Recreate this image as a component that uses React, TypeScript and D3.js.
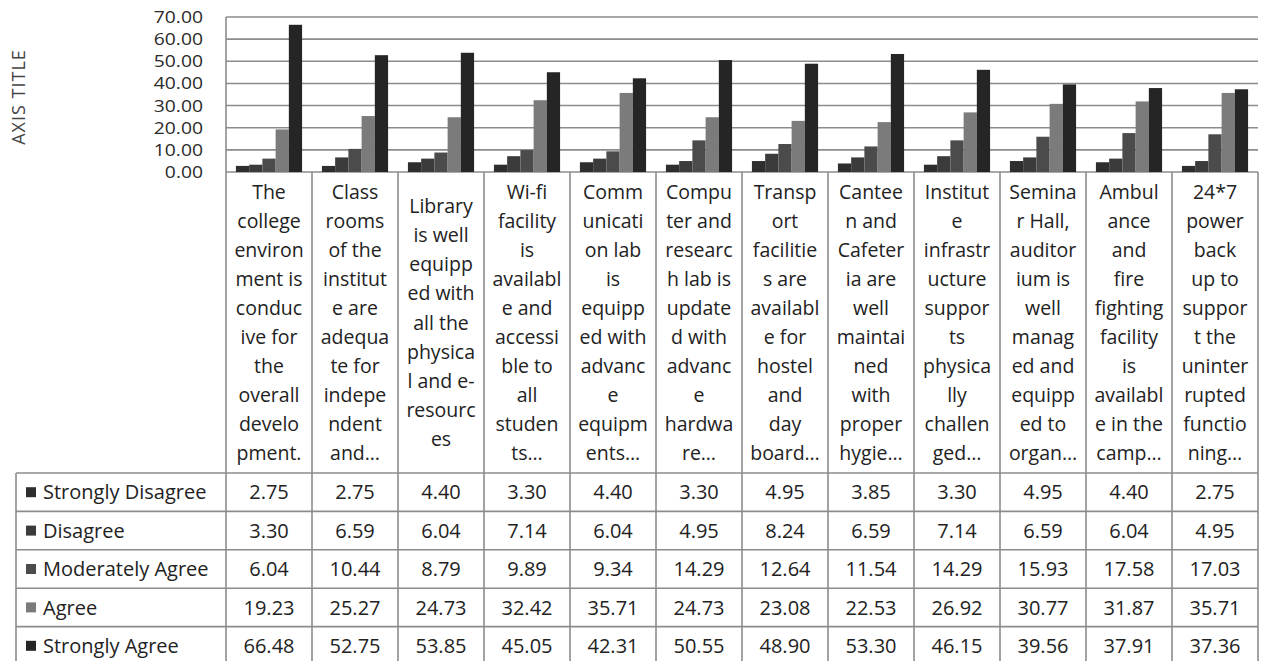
import React from 'react';
import * as d3 from 'd3';

const seriesNames = ['Strongly Disagree', 'Disagree', 'Moderately Agree', 'Agree', 'Strongly Agree'];
const seriesColors = ['#2e2e2e', '#3b3b3b', '#4b4b4b', '#7b7b7b', '#252525'];

// category labels, wrapped the way the data table wraps them
const categoryLines = [
  ['The', 'college', 'environ', 'ment is', 'conduc', 'ive for', 'the', 'overall', 'develo', 'pment.'],
  ['Class', 'rooms', 'of the', 'institut', 'e are', 'adequa', 'te for', 'indepe', 'ndent', 'and…'],
  ['Library', 'is well', 'equipp', 'ed with', 'all the', 'physica', 'l and e-', 'resourc', 'es'],
  ['Wi-fi', 'facility', 'is', 'availabl', 'e and', 'accessi', 'ble to', 'all', 'studen', 'ts…'],
  ['Comm', 'unicati', 'on lab', 'is', 'equipp', 'ed with', 'advanc', 'e', 'equipm', 'ents…'],
  ['Compu', 'ter and', 'researc', 'h lab is', 'update', 'd with', 'advanc', 'e', 'hardwa', 're…'],
  ['Transp', 'ort', 'facilitie', 's are', 'availabl', 'e for', 'hostel', 'and', 'day', 'board…'],
  ['Cantee', 'n and', 'Cafeter', 'ia are', 'well', 'maintai', 'ned', 'with', 'proper', 'hygie…'],
  ['Institut', 'e', 'infrastr', 'ucture', 'suppor', 'ts', 'physica', 'lly', 'challen', 'ged…'],
  ['Semina', 'r Hall,', 'auditor', 'ium is', 'well', 'manag', 'ed and', 'equipp', 'ed to', 'organ…'],
  ['Ambul', 'ance', 'and', 'fire', 'fighting', 'facility', 'is', 'availabl', 'e in the', 'camp…'],
  ['24*7', 'power', 'back', 'up to', 'suppor', 't the', 'uninter', 'rupted', 'functio', 'ning…'],
];

const stronglyDisagree = [2.75, 2.75, 4.40, 3.30, 4.40, 3.30, 4.95, 3.85, 3.30, 4.95, 4.40, 2.75];
const disagree = [3.30, 6.59, 6.04, 7.14, 6.04, 4.95, 8.24, 6.59, 7.14, 6.59, 6.04, 4.95];
const moderatelyAgree = [6.04, 10.44, 8.79, 9.89, 9.34, 14.29, 12.64, 11.54, 14.29, 15.93, 17.58, 17.03];
const agree = [19.23, 25.27, 24.73, 32.42, 35.71, 24.73, 23.08, 22.53, 26.92, 30.77, 31.87, 35.71];
const stronglyAgree = [66.48, 52.75, 53.85, 45.05, 42.31, 50.55, 48.90, 53.30, 46.15, 39.56, 37.91, 37.36];

const yTicks = [0, 10, 20, 30, 40, 50, 60, 70];

const seriesValues = [stronglyDisagree, disagree, moderatelyAgree, agree, stronglyAgree];

const W = 1269;
const H = 661;
const plotLeft = 226;
const plotRight = 1258;
const plotTop = 17;
const plotBottom = 172;
const tableTop = 473;
const rowH = 38.4;
const legendLeft = 16;
const font = '"Open Sans", "Noto Sans", sans-serif';
const gridColor = '#8c8c8c';

export default function App() {
  const x = d3.scaleBand<number>()
    .domain(categoryLines.map((_, i) => i))
    .range([plotLeft, plotRight])
    .padding(0);
  const bw = x.bandwidth();
  const barW = bw / 6.5;
  const xs = d3.scaleBand<number>()
    .domain(seriesNames.map((_, i) => i))
    .range([barW * 0.75, bw - barW * 0.75])
    .padding(0);

  const y = d3.scaleLinear().domain([0, 70]).range([plotBottom, plotTop]);

  const headerMid = (plotBottom + tableTop) / 2;
  const lineH = 29.1;
  const tableBottom = tableTop + rowH * seriesNames.length;

  return (
    <svg width={W} height={H} style={{ position: 'absolute', left: 0, top: 0, background: '#fff' }}>
      <rect width={W} height={H} fill="#fff" />

      {/* gridlines */}
      {yTicks.map((t) => (
        <line key={t} x1={plotLeft} x2={plotRight} y1={y(t)} y2={y(t)}
          stroke={gridColor} strokeWidth={1.6} />
      ))}

      {/* y tick labels (slightly widened, like the scanned original) */}
      {yTicks.map((t) => (
        <text key={'l' + t} transform={`translate(203,${y(t)}) scale(1.17,1)`} dy="0.36em" textAnchor="end"
          fontFamily={font} fontSize={16.5} fill="#2a2a2a">{t.toFixed(2)}</text>
      ))}

      <text transform={`translate(25,${97}) rotate(-90)`} textAnchor="middle"
        fontFamily={font} fontSize={18} fill="#444" letterSpacing={1}>AXIS TITLE</text>

      {/* bars */}
      {seriesValues.map((vals, s) => (
        <g key={s} fill={seriesColors[s]}>
          {vals.map((v, i) => (
            <rect key={i} x={(x(i) ?? 0) + (xs(s) ?? 0)} y={y(v)}
              width={xs.bandwidth()} height={y(0) - y(v)} />
          ))}
        </g>
      ))}

      {/* table: category headers */}
      {categoryLines.map((lines, i) => {
        const cx = (x(i) ?? 0) + bw / 2;
        const startY = headerMid - ((lines.length - 1) * lineH) / 2;
        return (
          <text key={'c' + i} textAnchor="middle" fontFamily={font} fontSize={19.5} fill="#222">
            {lines.map((ln, k) => (
              <tspan key={k} x={cx} y={startY + k * lineH} dy="0.36em">{ln}</tspan>
            ))}
          </text>
        );
      })}

      {/* table: values */}
      {seriesValues.map((vals, s) => (
        <g key={'v' + s}>
          {vals.map((v, i) => (
            <text key={i} x={(x(i) ?? 0) + bw / 2} y={tableTop + rowH * (s + 0.5)} dy="0.36em"
              textAnchor="middle" fontFamily={font} fontSize={20} fill="#222">{v.toFixed(2)}</text>
          ))}
        </g>
      ))}

      {/* table: legend keys */}
      {seriesNames.map((name, s) => {
        const cy = tableTop + rowH * (s + 0.5);
        return (
          <g key={'k' + s}>
            <rect x={26} y={cy - 5} width={10} height={10} fill={seriesColors[s]} />
            <text x={43} y={cy} dy="0.36em" fontFamily={font} fontSize={20} fill="#222">{name}</text>
          </g>
        );
      })}

      {/* table grid */}
      <g stroke={gridColor} strokeWidth={1.6} fill="none">
        <line x1={plotLeft} x2={plotLeft} y1={plotTop} y2={tableBottom} />
        {categoryLines.map((_, i) => (
          <line key={i} x1={(x(i) ?? 0) + bw} x2={(x(i) ?? 0) + bw} y1={plotBottom} y2={tableBottom} />
        ))}
        <line x1={legendLeft} x2={legendLeft} y1={tableTop} y2={tableBottom} />
        {d3.range(seriesNames.length + 1).map((r) => (
          <line key={'h' + r} x1={legendLeft} x2={plotRight} y1={tableTop + rowH * r} y2={tableTop + rowH * r} />
        ))}
      </g>
    </svg>
  );
}
